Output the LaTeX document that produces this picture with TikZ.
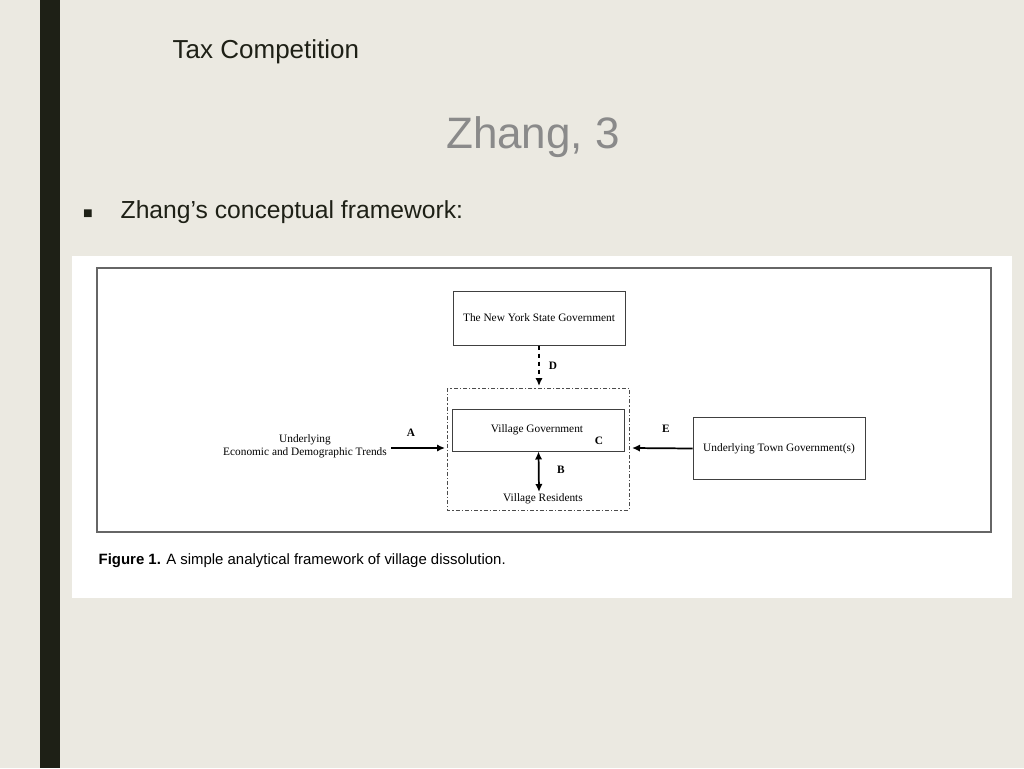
\documentclass[tikz,border=0pt]{standalone}
\usepackage{fontspec}
\setmainfont{Liberation Sans}
\newfontfamily\serf{Liberation Serif}
\usetikzlibrary{arrows.meta}
\definecolor{bg}{HTML}{EBE9E1}
\definecolor{bar}{HTML}{1E2016}
\definecolor{zg}{HTML}{8A8A8A}
\begin{document}
\begin{tikzpicture}[x=0.75pt,y=-0.75pt,
  box/.style={draw=black!75,line width=0.7pt,minimum width=129pt,inner sep=0pt},
  lab/.style={font=\serf\fontsize{8.5}{10}\selectfont},
  let/.style={font=\serf\bfseries\fontsize{8.5}{9}\selectfont},
  tip/.style={Latex[length=6pt,width=5.5pt]},
  arr/.style={-{Latex[length=6pt,width=5.5pt]},line width=1.3pt}]
\fill[bg] (0,0) rectangle (1024,768);
\useasboundingbox (0,0) rectangle (1024,768);
\fill[bar] (40,0) rectangle (60,768);
\node[anchor=west,font=\fontsize{19.5}{22}\selectfont,text=bar] (title) at (168,52) {Tax Competition};
\node[font=\fontsize{33}{36}\selectfont,text=zg] (zh) at (533,137) {Zhang, 3};
\node[font=\fontsize{12}{12}\selectfont,text=bar] (bul) at (88,214) {■};
\node[anchor=west,font=\fontsize{18.5}{21}\selectfont,text=bar] (sub) at (116,212) {Zhang’s conceptual framework:};
\fill[white] (72,256) rectangle (1012,598);
\draw[black!60,line width=0.8pt] (97,268) rectangle (991,532);
\node[box,minimum height=40pt] (ny) at (539,318.5) {};
\node[lab] (nyt) at (539,318) {The New York State Government};
\draw[black!70,line width=0.6pt,dash pattern=on 3pt off 1.5pt on 1pt off 1.5pt] (447,388) rectangle (629,510);
\coordinate (dtop) at (539,386);
\node[box,minimum height=31.5pt] (vg) at (538.5,430) {};
\node[lab] (vgt) at (537,430) {Village Government};
\node[let] (c) at (599,441) {C};
\node[lab] (vr) at (543,499) {Village Residents};
\coordinate (vrt) at (539,492);
\draw[arr,dashed] (ny.south) -- (dtop);
\node[let] (d) at (553,366) {D};
\draw[{Latex[length=6pt,width=5.5pt]}-{Latex[length=6pt,width=5.5pt]},line width=1.3pt] (vg.south) -- (vrt);
\node[let] (b) at (561,470) {B};
\node[lab,align=center] (ul) at (305,446) {Underlying\\Economic and Demographic Trends};
\coordinate (ain) at (445,448);
\draw[arr] (ul.east) ++(0,2) coordinate (aout) -- (ain);
\node[let] (a) at (411,433) {A};
\node[box,minimum height=47pt] (tw) at (779,448.5) {};
\node[lab] (twt) at (779,449) {Underlying Town Government(s)};
\coordinate (ein) at (632,448);
\draw[arr] (tw.west) -- (ein);
\node[let] (e) at (666,429) {E};
\node[anchor=west,font=\fontsize{11.2}{13}\selectfont] (cap) at (94,561) {\textbf{Figure 1.}\hspace{4pt}A simple analytical framework of village dissolution.};
\end{tikzpicture}
\end{document}
